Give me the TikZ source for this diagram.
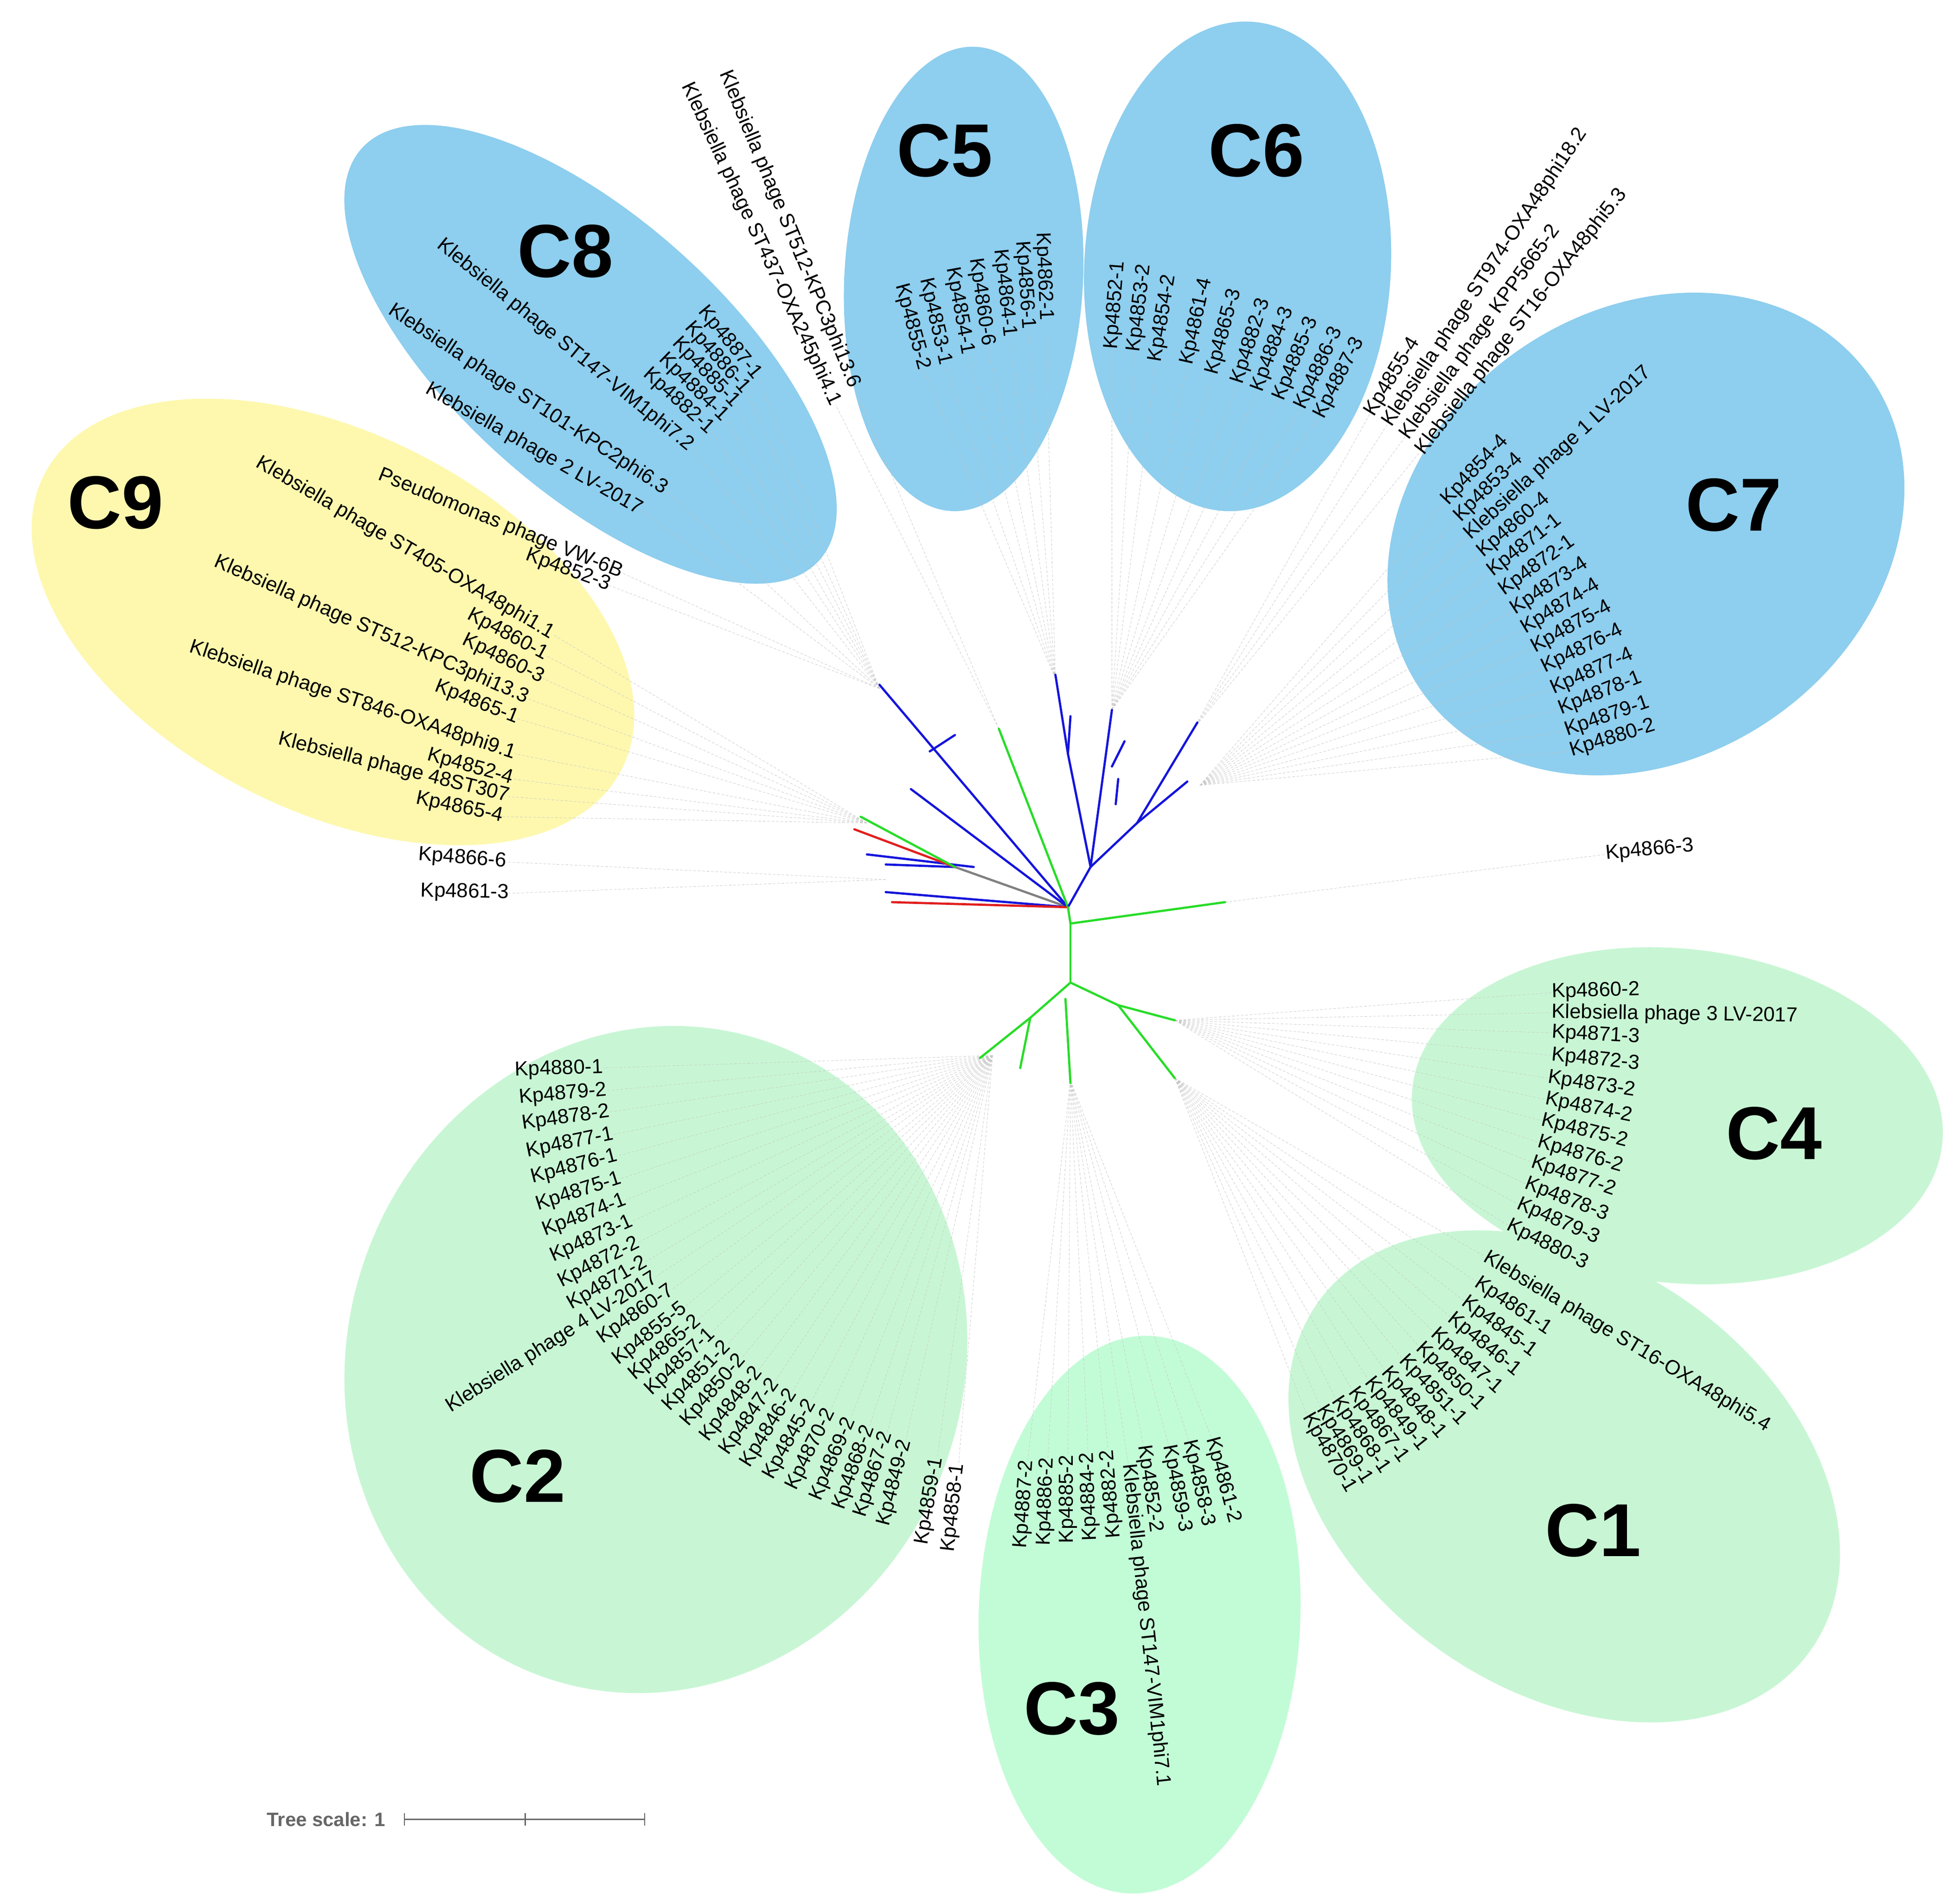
\documentclass[tikz,border=0pt]{standalone}
\usepackage{fontspec}
\setmainfont{Liberation Sans}
\usetikzlibrary{calc}
\definecolor{cblue}{RGB}{142,206,238}
\definecolor{cyel}{RGB}{253,248,174}
\definecolor{cgrn}{RGB}{200,246,212}
\definecolor{cgrn3}{RGB}{194,252,214}
\definecolor{tblue}{RGB}{20,20,220}
\definecolor{tgrn}{RGB}{40,220,40}
\definecolor{tred}{RGB}{225,30,30}
\tikzset{leaf/.style={font=\fontsize{46}{48}\selectfont,inner sep=0pt},
 leafline/.style={gray!45,line width=0.8pt,dash pattern=on 6pt off 4pt},
 clab/.style={font=\fontsize{170}{170}\bfseries\selectfont},
 br/.style={line width=5pt,line cap=round}}
\newcommand\lR[5][O]{\draw[leafline] (#2) -- (#3,#4);
 \path let \p1=($(#3,#4)-(#1)$), \n1={atan2(\y1,\x1)} in node[leaf,anchor=west,rotate=\n1] at (#3,#4) {#5};}
\newcommand\lL[5][O]{\draw[leafline] (#2) -- (#3,#4);
 \path let \p1=($(#3,#4)-(#1)$), \n1={atan2(\y1,\x1)+180} in node[leaf,anchor=east,rotate=\n1] at (#3,#4) {#5};}
\begin{document}
\begin{tikzpicture}[x=0.1cm,y=-0.1cm]
\useasboundingbox (0,0) rectangle (1560,1515);
\fill[white] (0,0) rectangle (1560,1515);
\coordinate (O) at (850,720);
\coordinate (O9) at (850,745);
\coordinate (O8) at (850,600);
\coordinate (O1) at (850,800);
\coordinate (O4) at (850,800);
\coordinate (O2) at (800,840);
% ellipses
\fill[cyel] (265,495) ellipse [x radius=258, y radius=150, rotate=-27];
\fill[cblue] (470,282) ellipse [x radius=245, y radius=108, rotate=-42];
\fill[cblue] (767,222) ellipse [x radius=95, y radius=185, rotate=-3];
\fill[cblue] (985,212) ellipse [x radius=122, y radius=195, rotate=-3];
\fill[cblue] (1310,425) ellipse [x radius=218, y radius=178, rotate=35];
\fill[cgrn] (1335,888) ellipse [x radius=212, y radius=133, rotate=-6];
\fill[cgrn] (1245,1175) ellipse [x radius=240, y radius=170, rotate=-35];
\fill[cgrn3] (907,1285) ellipse [x radius=128, y radius=222, rotate=-2];
\fill[cgrn] (522,1082) ellipse [x radius=245, y radius=268, rotate=-20];
% cluster labels
\node[clab] (c1) at (1268,1218) {C1};
\node[clab] (c2) at (412,1175) {C2};
\node[clab] (c3) at (853,1360) {C3};
\node[clab] (c4) at (1412,902) {C4};
\node[clab] (c5) at (752,120) {C5};
\node[clab] (c6) at (1000,120) {C6};
\node[clab] (c7) at (1380,402) {C7};
\node[clab] (c8) at (450,200) {C8};
\node[clab] (c9) at (92,400) {C9};
% tips
\coordinate (t9) at (690,655); \coordinate (t8) at (700,548); \coordinate (tx) at (795,580);
\coordinate (t5) at (840,540); \coordinate (t6) at (885,565); \coordinate (t7) at (955,625);
\coordinate (tu) at (950,580); \coordinate (tk) at (975,718); \coordinate (t4) at (935,812);
\coordinate (t1) at (935,858); \coordinate (t3) at (852,860); \coordinate (t2) at (790,840);
\coordinate (tl) at (705,700);
% C9
\lL[O9]{t9}{440}{505}{Klebsiella phage ST405-OXA48phi1.1}
\lL[O9]{t9}{435}{522}{Kp4860-1}
\lL[O9]{t9}{432}{540}{Kp4860-3}
\lL[O9]{t9}{420}{556}{Klebsiella phage ST512-KPC3phi13.3}
\lL[O9]{t9}{412}{572}{Kp4865-1}
\lL[O9]{t9}{410}{600}{Klebsiella phage ST846-OXA48phi9.1}
\lL[O9]{t9}{408}{620}{Kp4852-4}
\lL[O9]{t9}{405}{634}{Klebsiella phage 48ST307}
\lL[O9]{t9}{400}{650}{Kp4865-4}
\lL{tl}{403}{686}{Kp4866-6}
\lL{tl}{405}{711}{Kp4861-3}
\lL[O8]{t8}{495}{456}{Pseudomonas phage VW-6B}
\lL[O8]{t8}{485}{466}{Kp4852-3}
% C8
\lL[O8]{t8}{603}{300}{Kp4887-1}
\lL[O8]{t8}{594}{311}{Kp4886-1}
\lL[O8]{t8}{586}{322}{Kp4885-1}
\lL[O8]{t8}{577}{333}{Kp4884-1}
\lL[O8]{t8}{566}{343}{Kp4882-1}
\lL[O8]{t8}{550}{356}{Klebsiella phage ST147-VIM1phi7.2}
\lL[O8]{t8}{530}{390}{Klebsiella phage ST101-KPC2phi6.3}
\lL[O8]{t8}{510}{406}{Klebsiella phage 2 LV-2017}
\lL{tx}{680}{308}{Klebsiella phage ST512-KPC3phi13.6}
\lL{tx}{665}{322}{Klebsiella phage ST437-OXA245phi4.1}
% C5
\lL{t5}{832}{255}{Kp4862-1}
\lL{t5}{818}{262}{Kp4856-1}
\lL{t5}{803}{268}{Kp4864-1}
\lL{t5}{786}{275}{Kp4860-6}
\lL{t5}{770}{282}{Kp4854-1}
\lL{t5}{752}{290}{Kp4853-1}
\lL{t5}{735}{294}{Kp4855-2}
% C6
\lR{t6}{885}{278}{Kp4852-1}
\lR{t6}{903}{280}{Kp4853-2}
\lR{t6}{920}{288}{Kp4854-2}
\lR{t6}{945}{290}{Kp4861-4}
\lR{t6}{965}{298}{Kp4865-3}
\lR{t6}{985}{305}{Kp4882-3}
\lR{t6}{1001}{311}{Kp4884-3}
\lR{t6}{1018}{318}{Kp4885-3}
\lR{t6}{1035}{325}{Kp4886-3}
\lR{t6}{1050}{332}{Kp4887-3}
\lR{tu}{1090}{330}{Kp4855-4}
\lR{tu}{1104}{338}{Klebsiella phage ST974-OXA48phi18.2}
\lR{tu}{1118}{348}{Klebsiella phage KPP5665-2}
\lR{tu}{1130}{360}{Klebsiella phage ST16-OXA48phi5.3}
% C7
\lR{t7}{1150}{400}{Kp4854-4}
\lR{t7}{1160}{413}{Kp4853-4}
\lR{t7}{1168}{427}{Klebsiella phage 1 LV-2017}
\lR{t7}{1178}{441}{Kp4860-4}
\lR{t7}{1186}{456}{Kp4871-1}
\lR{t7}{1195}{471}{Kp4872-1}
\lR{t7}{1204}{486}{Kp4873-4}
\lR{t7}{1212}{501}{Kp4874-4}
\lR{t7}{1220}{516}{Kp4875-4}
\lR{t7}{1228}{532}{Kp4876-4}
\lR{t7}{1235}{549}{Kp4877-4}
\lR{t7}{1241}{565}{Kp4878-1}
\lR{t7}{1246}{582}{Kp4879-1}
\lR{t7}{1250}{598}{Kp4880-2}
\lR{tk}{1278}{680}{Kp4866-3}
% C4
\lR[O4]{t4}{1235}{790}{Kp4860-2}
\lR[O4]{t4}{1235}{806}{Klebsiella phage 3 LV-2017}
\lR[O4]{t4}{1235}{822}{Kp4871-3}
\lR[O4]{t4}{1235}{840}{Kp4872-3}
\lR[O4]{t4}{1232}{858}{Kp4873-2}
\lR[O4]{t4}{1230}{875}{Kp4874-2}
\lR[O4]{t4}{1227}{892}{Kp4875-2}
\lR[O4]{t4}{1224}{909}{Kp4876-2}
\lR[O4]{t4}{1219}{925}{Kp4877-2}
\lR[O4]{t4}{1214}{942}{Kp4878-3}
\lR[O4]{t4}{1208}{958}{Kp4879-3}
\lR[O4]{t4}{1200}{975}{Kp4880-3}
% C1
\lR[O1]{t1}{1182}{1000}{Klebsiella phage ST16-OXA48phi5.4}
\lR[O1]{t1}{1175}{1020}{Kp4861-1}
\lR[O1]{t1}{1165}{1035}{Kp4845-1}
\lR[O1]{t1}{1154}{1048}{Kp4846-1}
\lR[O1]{t1}{1141}{1060}{Kp4847-1}
\lR[O1]{t1}{1129}{1071}{Kp4850-1}
\lR[O1]{t1}{1116}{1081}{Kp4851-1}
\lR[O1]{t1}{1102}{1090}{Kp4848-1}
\lR[O1]{t1}{1089}{1098}{Kp4849-1}
\lR[O1]{t1}{1076}{1106}{Kp4867-1}
\lR[O1]{t1}{1063}{1113}{Kp4868-1}
\lR[O1]{t1}{1051}{1120}{Kp4869-1}
\lR[O1]{t1}{1040}{1126}{Kp4870-1}
% C3
\lL{t3}{818}{1162}{Kp4887-2}
\lL{t3}{834}{1160}{Kp4886-2}
\lL{t3}{850}{1158}{Kp4885-2}
\lL{t3}{866}{1156}{Kp4884-2}
\lL{t3}{882}{1154}{Kp4882-2}
\lR{t3}{898}{1165}{Klebsiella phage ST147-VIM1phi7.1}
\lR{t3}{910}{1150}{Kp4852-2}
\lR{t3}{930}{1150}{Kp4859-3}
\lR{t3}{946}{1146}{Kp4858-3}
\lR{t3}{964}{1144}{Kp4861-2}
% C2
\lL[O2]{t2}{480}{850}{Kp4880-1}
\lL[O2]{t2}{483}{868}{Kp4879-2}
\lL[O2]{t2}{485}{885}{Kp4878-2}
\lL[O2]{t2}{488}{903}{Kp4877-1}
\lL[O2]{t2}{491}{920}{Kp4876-1}
\lL[O2]{t2}{494}{938}{Kp4875-1}
\lL[O2]{t2}{498}{955}{Kp4874-1}
\lL[O2]{t2}{503}{972}{Kp4873-1}
\lL[O2]{t2}{508}{989}{Kp4872-2}
\lL[O2]{t2}{514}{1004}{Kp4871-2}
\lL[O2]{t2}{522}{1016}{Klebsiella phage 4 LV-2017}
\lL[O2]{t2}{535}{1026}{Kp4860-7}
\lL[O2]{t2}{545}{1040}{Kp4855-5}
\lL[O2]{t2}{556}{1050}{Kp4865-2}
\lL[O2]{t2}{567}{1060}{Kp4857-1}
\lL[O2]{t2}{579}{1070}{Kp4851-2}
\lL[O2]{t2}{591}{1080}{Kp4850-2}
\lL[O2]{t2}{604}{1090}{Kp4848-2}
\lL[O2]{t2}{617}{1099}{Kp4847-2}
\lL[O2]{t2}{631}{1107}{Kp4846-2}
\lL[O2]{t2}{646}{1115}{Kp4845-2}
\lL[O2]{t2}{661}{1122}{Kp4870-2}
\lL[O2]{t2}{677}{1129}{Kp4869-2}
\lL[O2]{t2}{692}{1135}{Kp4868-2}
\lL[O2]{t2}{706}{1140}{Kp4867-2}
\lL[O2]{t2}{721}{1146}{Kp4849-2}
\lL[O2]{t2}{746}{1160}{Kp4859-1}
\lL[O2]{t2}{763}{1165}{Kp4858-1}
% tree
\coordinate (r) at (850,722);
\draw[br,gray] (r) -- (760,690);
\draw[br,tblue] (r) -- (700,545); \draw[br,tblue] (740,598) -- (760,585);
\draw[br,tblue] (r) -- (725,628);
\draw[br,tblue] (775,690) -- (690,680); \draw[br,tblue] (760,690) -- (705,688);
\draw[br,tblue] (r) -- (705,710);
\draw[br,tred] (760,690) -- (680,660);
\draw[br,tred] (r) -- (710,718);
\draw[br,tgrn] (760,690) -- (685,650);
\draw[br,tgrn] (r) -- (795,580);
\coordinate (u) at (868,690);
\draw[br,tblue] (r) -- (u) -- (905,655);
\draw[br,tblue] (u) -- (850,600) -- (840,537);
\draw[br,tblue] (850,600) -- (852,570);
\draw[br,tblue] (u) -- (885,565); \draw[br,tblue] (885,610) -- (895,590);
\draw[br,tblue] (888,640) -- (890,620);
\draw[br,tblue] (905,655) -- (953,575); \draw[br,tblue] (905,655) -- (945,622);
\draw[br,tgrn] (r) -- (852,735) -- (975,718);
\draw[br,tgrn] (852,735) -- (852,782);
\draw[br,tgrn] (852,782) -- (820,810) -- (780,842);
\draw[br,tgrn] (820,810) -- (812,850);
\draw[br,tgrn] (848,795) -- (852,862);
\draw[br,tgrn] (852,782) -- (890,800) -- (935,812);
\draw[br,tgrn] (890,800) -- (935,858);
% scale
\node[font=\fontsize{44}{46}\bfseries\selectfont,text=gray!80!black,anchor=east] (ts) at (308,1448) {Tree scale: 1};
\draw[gray!80!black,line width=2.5pt] (322,1448) -- (513,1448);
\foreach \x in {322,418,513} \draw[gray!80!black,line width=2.5pt] (\x,1443) -- (\x,1453);
\end{tikzpicture}
\end{document}
